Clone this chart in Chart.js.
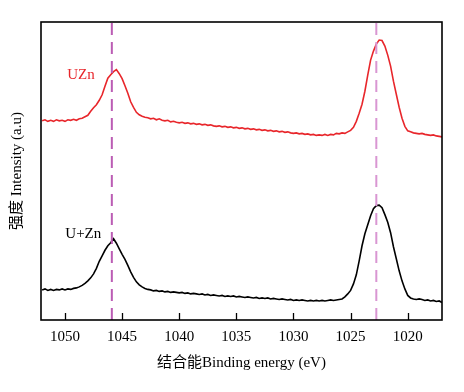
<!DOCTYPE html>
<html>
<head>
<meta charset="utf-8">
<script src="https://cdn.jsdelivr.net/npm/chart.js@4.4.1/dist/chart.umd.min.js"></script>
<style>
  html, body { margin: 0; padding: 0; background: #fff; }
  #wrap { width: 464px; height: 392px; }
</style>
</head>
<body>
<div id="wrap"><canvas id="xps"></canvas></div>
<script>
// binding energy (eV), 0.25 eV step, high -> low
var energia = [
  1052, 1051.75, 1051.5, 1051.25, 1051, 1050.75, 1050.5, 1050.25,
  1050, 1049.75, 1049.5, 1049.25, 1049, 1048.75, 1048.5, 1048.25,
  1048, 1047.75, 1047.5, 1047.25, 1047, 1046.75, 1046.5, 1046.25,
  1046, 1045.75, 1045.5, 1045.25, 1045, 1044.75, 1044.5, 1044.25,
  1044, 1043.75, 1043.5, 1043.25, 1043, 1042.75, 1042.5, 1042.25,
  1042, 1041.75, 1041.5, 1041.25, 1041, 1040.75, 1040.5, 1040.25,
  1040, 1039.75, 1039.5, 1039.25, 1039, 1038.75, 1038.5, 1038.25,
  1038, 1037.75, 1037.5, 1037.25, 1037, 1036.75, 1036.5, 1036.25,
  1036, 1035.75, 1035.5, 1035.25, 1035, 1034.75, 1034.5, 1034.25,
  1034, 1033.75, 1033.5, 1033.25, 1033, 1032.75, 1032.5, 1032.25,
  1032, 1031.75, 1031.5, 1031.25, 1031, 1030.75, 1030.5, 1030.25,
  1030, 1029.75, 1029.5, 1029.25, 1029, 1028.75, 1028.5, 1028.25,
  1028, 1027.75, 1027.5, 1027.25, 1027, 1026.75, 1026.5, 1026.25,
  1026, 1025.75, 1025.5, 1025.25, 1025, 1024.75, 1024.5, 1024.25,
  1024, 1023.75, 1023.5, 1023.25, 1023, 1022.75, 1022.5, 1022.25,
  1022, 1021.75, 1021.5, 1021.25, 1021, 1020.75, 1020.5, 1020.25,
  1020, 1019.75, 1019.5, 1019.25, 1019, 1018.75, 1018.5, 1018.25,
  1018, 1017.75, 1017.5, 1017.25, 1017
];

// UZn (red, upper trace)
var uzn = [
  198.5, 199.5, 198, 199, 198, 199.5, 198.5, 199,
  198, 199.5, 199, 200, 199, 200.5, 201, 202.5,
  204, 208, 211.5, 214.5, 219, 224.5, 233, 241,
  244.5, 247.5, 249.5, 245.5, 240.5, 233.5, 226, 217.5,
  212, 207, 204.5, 203, 202, 201.5, 200.5, 201,
  199.5, 200.5, 199, 198.5, 199, 197.5, 198, 197,
  196.5, 197, 196, 196.5, 195.5, 196, 195, 195.5,
  194.5, 195, 194, 194.5, 193.5, 193, 193.5, 192.5,
  193, 192, 192.5, 191.5, 192, 191, 191.5, 190.5,
  191, 190, 190.5, 189.5, 190, 189, 189.5, 188.5,
  189, 188, 188.5, 187.5, 188, 187, 187.5, 186.5,
  186, 186.5, 185.5, 186, 185, 185.5, 184.5, 185,
  184, 184.5, 184, 185, 184, 185, 184.5, 186,
  185.5, 186.5, 186, 187.5, 189, 192, 198, 206,
  215, 228, 244, 259, 268, 275, 279, 278.5,
  273, 264, 253, 238, 225, 212, 201, 193,
  188.5, 187.5, 186.5, 186, 185.5, 186, 185, 184.5,
  184, 184.5, 183.5, 183, 182.5
];

// U+Zn (black, lower trace)
var uMasZn = [
  30, 31, 29.5, 30.5, 29.5, 30.5, 30, 31,
  30, 31, 30.5, 31.5, 32, 33, 34.5, 36.5,
  39, 42, 46, 51.5, 58.5, 64, 69.5, 74,
  77, 81, 76.5, 71, 65.5, 60.5, 54.5, 48,
  42.5, 38, 35, 33, 31.5, 30.5, 30, 29,
  29.5, 28.5, 29, 28, 28.5, 27.5, 28, 27.5,
  27, 27.5, 26.5, 27, 26, 26.5, 26, 25.5,
  26, 25, 25.5, 24.5, 25, 24.5, 24, 24.5,
  23.5, 24, 23.5, 24, 23, 23.5, 23, 22.5,
  23, 22.5, 22, 22.5, 21.5, 22, 21.5, 22,
  21, 21.5, 21, 20.5, 21, 20.5, 20, 20.5,
  19.5, 20, 19.5, 20, 19.5, 19, 19.5, 19,
  19.5, 19, 19.5, 19, 19.5, 20, 19.5, 20,
  20.5, 21, 23, 26, 29.5, 36, 45, 59,
  74, 86, 95, 104, 111, 114, 114.5, 112,
  105, 97.5, 87, 73, 61, 49, 39, 31,
  24.5, 22, 21, 20.5, 21, 20.5, 19.5, 20,
  19, 19.5, 18.5, 19, 17.5
];

var picos = [1045.9, 1022.75];          // dashed reference lines
var ticksX = [1050, 1045, 1040, 1035, 1030, 1025, 1020];
var etiquetas = ['UZn', 'U+Zn'];
var etiquetaE = [1048.6, 1048.4];
var etiquetaI = [244, 86];

var fuente = "'Liberation Serif', 'Noto Sans CJK SC', serif";

function puntos(valores){
  return energia.map(function(e, i){ return {x: e, y: valores[i]}; });
}
function vertical(e){
  return [{x: e, y: 0}, {x: e, y: 297}];
}

var marco = {
  id: 'marco',
  afterDatasetsDraw: function(chart){
    var ctx = chart.ctx, a = chart.chartArea, sx = chart.scales.x, sy = chart.scales.y;
    ctx.save();
    ctx.strokeStyle = '#000';
    ctx.lineWidth = 1.6;
    ctx.strokeRect(a.left, a.top, a.right - a.left, a.bottom - a.top);
    // ticks pointing in
    ctx.lineWidth = 1.3;
    ticksX.forEach(function(v){
      var px = Math.round(sx.getPixelForValue(v)) + 0.5;
      ctx.beginPath();
      ctx.moveTo(px, a.bottom);
      ctx.lineTo(px, a.bottom - 7);
      ctx.stroke();
    });
    ctx.font = '15px ' + fuente;
    ctx.textAlign = 'center';
    ctx.textBaseline = 'middle';
    var colores = ['#e8262b', '#000'];
    etiquetas.forEach(function(t, i){
      ctx.fillStyle = colores[i];
      ctx.fillText(t, sx.getPixelForValue(etiquetaE[i]), sy.getPixelForValue(etiquetaI[i]));
    });
    ctx.restore();
  }
};

var config = {
  type: 'line',
  data: {
    datasets: [
      {
        label: 'pico 1', data: vertical(picos[0]),
        borderColor: '#bb5cb4', borderWidth: 2, borderDash: [12, 7],
        pointRadius: 0, fill: false
      },
      {
        label: 'pico 2', data: vertical(picos[1]),
        borderColor: '#d996d2', borderWidth: 2, borderDash: [12, 7],
        pointRadius: 0, fill: false
      },
      {
        label: 'UZn', data: puntos(uzn),
        borderColor: '#e8262b', borderWidth: 1.6,
        pointRadius: 0, tension: 0, fill: false
      },
      {
        label: 'U+Zn', data: puntos(uMasZn),
        borderColor: '#000', borderWidth: 1.6,
        pointRadius: 0, tension: 0, fill: false
      }
    ]
  },
  options: {
    responsive: true,
    maintainAspectRatio: false,
    animation: false,
    events: [],
    layout: { padding: { left: 4, right: 22, top: 22, bottom: 16 } },
    plugins: { legend: { display: false }, tooltip: { enabled: false } },
    scales: {
      x: {
        type: 'linear',
        reverse: true,
        min: 1017,
        max: 1052.1,
        afterBuildTicks: function(scale){
          scale.ticks = ticksX.map(function(v){ return {value: v}; });
        },
        grid: { display: false, drawTicks: false },
        border: { display: false },
        ticks: {
          color: '#000', padding: 8, maxRotation: 0,
          font: { family: fuente, size: 15 },
          callback: function(v){ return String(v); }
        },
        title: {
          display: true, text: '结合能Binding energy (eV)', color: '#000',
          font: { family: fuente, size: 15 },
          padding: { top: 0, bottom: 4 }
        }
      },
      y: {
        min: 0,
        max: 297,
        grid: { display: false, drawTicks: false },
        border: { display: false },
        ticks: { display: false },
        title: {
          display: true, text: '强度 Intensity (a.u)', color: '#000',
          font: { family: fuente, size: 15 },
          padding: { top: 4, bottom: 15 }
        }
      }
    }
  },
  plugins: [marco]
};

window.myXps = new Chart(document.getElementById('xps'), config);
</script>
</body>
</html>
